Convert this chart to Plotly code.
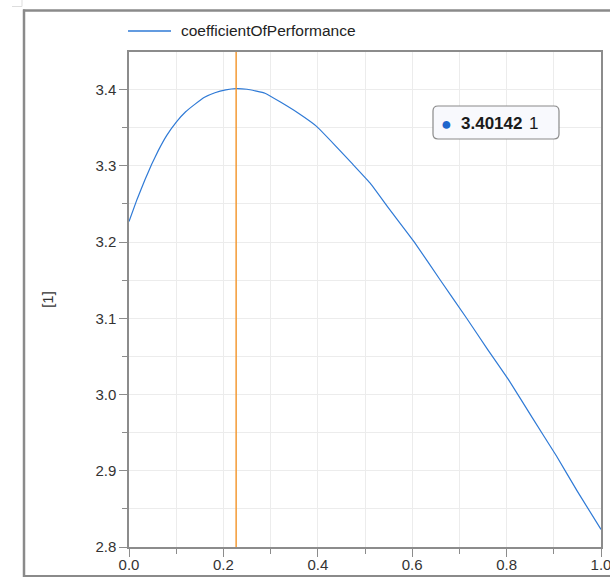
import plotly.graph_objects as go

# Data
x_vals = [0.00, 0.017, 0.034, 0.048, 0.062, 0.08, 0.101, 0.12, 0.14, 0.16, 0.182, 0.205,
          0.227, 0.25, 0.27, 0.288, 0.32, 0.359, 0.398, 0.435, 0.472, 0.511, 0.55, 0.606,
          0.659, 0.715, 0.76, 0.804, 0.855, 0.906, 0.95, 1.00]
cop_vals = [3.227, 3.256, 3.282, 3.302, 3.320, 3.340, 3.358, 3.371, 3.381, 3.390, 3.396, 3.3998,
            3.40142, 3.4005, 3.398, 3.3953, 3.384, 3.369, 3.3515, 3.328, 3.3035, 3.2773, 3.2445, 3.1987,
            3.1506, 3.1004, 3.059, 3.0195, 2.969, 2.919, 2.873, 2.823]
series_name = "coefficientOfPerformance"
cursor_x = 0.227
cursor_value = "3.40142"
cursor_unit = "1"
y_title = "[1]"

W, H = 610, 577
ML, MR, MT, MB = 129, 9, 52, 30
PW, PH = W - ML - MR, H - MT - MB

def px(xp):
    return (xp - ML) / PW

def py(yp):
    return (H - MB - yp) / PH

FONT = "Arial, Liberation Sans"
LINE_BLUE = "#2f7ad6"

fig = go.Figure()
fig.add_trace(go.Scatter(
    x=x_vals, y=cop_vals, mode="lines", name=series_name,
    line=dict(color=LINE_BLUE, width=1.2, shape="spline", smoothing=0.3),
    showlegend=False,
))

grid = "#ececec"
axis_common = dict(
    showline=True, linecolor="#8c8c8c", linewidth=1.5, mirror=True,
    ticks="outside", ticklen=8, tickcolor="#8c8c8c", tickwidth=1,
    showgrid=True, gridcolor=grid, gridwidth=1, zeroline=False, automargin=False,
    tickfont=dict(family=FONT, size=15, color="#333333"),
    ticklabeloverflow="allow",
)

fig.update_xaxes(range=[0, 1], dtick=0.2, tickformat=".1f", ticklabelstandoff=-5,
                 minor=dict(dtick=0.1, ticks="outside", ticklen=5, tickcolor="#8c8c8c",
                            showgrid=True, gridcolor=grid),
                 **axis_common)
fig.update_yaxes(range=[2.8, 3.4494], dtick=0.1, tick0=2.8, tickformat=".1f",
                 minor=dict(dtick=0.05, ticks="outside", ticklen=5, tickcolor="#8c8c8c",
                            showgrid=True, gridcolor=grid),
                 title=dict(text=y_title, standoff=38,
                            font=dict(family=FONT, size=15, color="#333333")),
                 **axis_common)

# rounded box for cursor readout
bx0, bx1, by0, by1, r = px(433), px(559), py(106), py(139), 5
rx, ry = r / PW, r / PH
box_path = (f"M{bx0+rx},{by0} L{bx1-rx},{by0} Q{bx1},{by0} {bx1},{by0-ry} "
            f"L{bx1},{by1+ry} Q{bx1},{by1} {bx1-rx},{by1} L{bx0+rx},{by1} "
            f"Q{bx0},{by1} {bx0},{by1+ry} L{bx0},{by0-ry} Q{bx0},{by0} {bx0+rx},{by0} Z")

shapes = [
    # cursor line
    dict(type="line", xref="x", yref="paper", x0=cursor_x, x1=cursor_x, y0=0, y1=1,
         line=dict(color="#f39a35", width=1.5)),
    # outer frame
    dict(type="line", xref="paper", yref="paper", x0=px(24), x1=px(24), y0=py(9.5), y1=py(577),
         line=dict(color="#8a8a8a", width=2.5)),
    dict(type="line", xref="paper", yref="paper", x0=px(23), x1=px(610), y0=py(10.5), y1=py(10.5),
         line=dict(color="#8a8a8a", width=2.5)),
    dict(type="line", xref="paper", yref="paper", x0=px(23), x1=px(610), y0=py(576), y1=py(576),
         line=dict(color="#8a8a8a", width=2)),
    dict(type="line", xref="paper", yref="paper", x0=px(12), x1=px(22), y0=py(6.5), y1=py(6.5),
         line=dict(color="#dddddd", width=1)),
    dict(type="line", xref="paper", yref="paper", x0=px(22), x1=px(22), y0=py(0), y1=py(6.5),
         line=dict(color="#dddddd", width=1)),
    # legend line
    dict(type="line", xref="paper", yref="paper", x0=px(128), x1=px(171), y0=py(31), y1=py(31),
         line=dict(color=LINE_BLUE, width=1.5)),
    # readout box
    dict(type="path", xref="paper", yref="paper", path=box_path,
         fillcolor="#f8f9fd", line=dict(color="#8a8a8a", width=1.2), layer="above"),
]

annotations = [
    dict(xref="paper", yref="paper", x=px(179), y=py(31), xanchor="left", yanchor="middle",
         text=series_name, showarrow=False,
         font=dict(family=FONT, size=15.5, color="#222222")),
    dict(xref="paper", yref="paper", x=px(446), y=py(124), xanchor="center", yanchor="middle",
         text="●", showarrow=False, font=dict(family=FONT, size=18, color="#1f66cc")),
    dict(xref="paper", yref="paper", x=px(459), y=py(123.5), xanchor="left", yanchor="middle",
         text=f"<b>{cursor_value}</b>", showarrow=False,
         font=dict(family=FONT, size=17, color="#1a1a1a")),
    dict(xref="paper", yref="paper", x=px(527), y=py(123.5), xanchor="left", yanchor="middle",
         text=cursor_unit, showarrow=False,
         font=dict(family=FONT, size=17, color="#1a1a1a")),
]

fig.update_layout(
    width=W, height=H,
    margin=dict(l=ML, r=MR, t=MT, b=MB, autoexpand=False),
    paper_bgcolor="white", plot_bgcolor="white",
    shapes=shapes, annotations=annotations,
    showlegend=False,
)

fig.write_html("out.html")
